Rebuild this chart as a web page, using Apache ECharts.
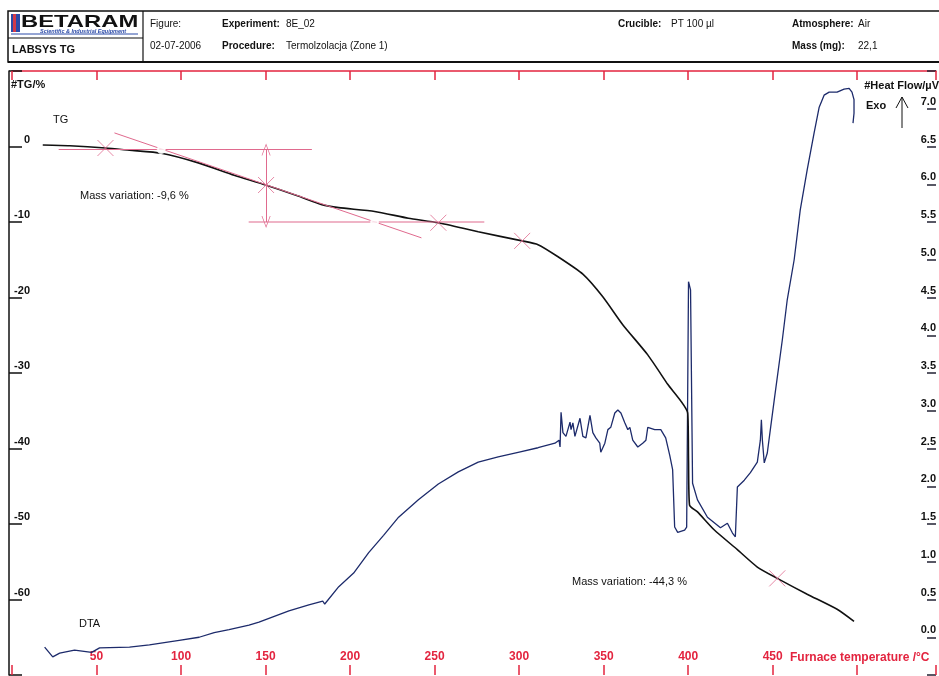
<!DOCTYPE html>
<html>
<head>
<meta charset="utf-8">
<script src="https://cdn.jsdelivr.net/npm/echarts@6/dist/echarts.min.js"></script>
<style>
html,body{margin:0;padding:0;background:#fff;}
#chart{width:939px;height:676px;}
</style>
</head>
<body>
<div id="chart"></div>
<script>
// TG curve, furnace temperature (°C) and mass change (%)
var tgT = [18.2, 34.1, 55.3, 69.5, 88.3, 110.7, 131.4, 150.2, 169.7, 183.3, 193.3, 214.5, 234.5, 252.2, 275.8, 301.8, 311.2, 323.0, 337.7, 349.5, 361.3, 376.1, 387.9, 399.7, 400.2, 400.8, 405.5, 415.5, 429.1, 440.9, 452.7, 470.4, 488.1, 498.1];
var tgV = [0.2, 0.1, -0.2, -0.5, -0.9, -2.2, -3.8, -5.1, -6.6, -7.7, -8.1, -8.6, -9.5, -10.1, -11.3, -12.5, -13.0, -14.6, -16.9, -19.9, -23.6, -27.6, -31.5, -35.3, -41.5, -47.5, -48.4, -50.8, -53.4, -55.7, -57.2, -59.3, -61.3, -62.9];

// DTA curve, furnace temperature (°C) and heat flow (µV)
var dtaT = [19.3, 24.1, 28.2, 37.0, 47.1, 51.8, 69.5, 81.3, 93.0, 98.9, 110.7, 119.6, 128.4, 140.2, 146.1, 152.0, 163.8, 175.6, 183.8, 185.0, 193.3, 202.1, 211.0, 219.8, 228.7, 240.4, 252.2, 264.0, 275.8, 287.6, 299.4, 311.2, 321.2,
  323.6, 324.2, 324.8, 325.9, 327.7, 330.1, 330.7, 331.8, 333.0, 336.0, 337.7, 339.5, 341.9, 343.6, 345.4, 347.7, 348.3, 350.7, 352.5, 354.2, 356.6, 358.4, 360.2, 362.5, 364.3, 365.5, 367.2, 370.2, 373.1, 375.0, 376.1, 380.2, 383.8, 386.7, 389.1, 390.8,
  392.0, 393.8, 397.9, 399.1, 400.2, 401.4, 402.6, 405.5, 411.4, 419.1, 423.2, 426.2, 427.9, 429.1, 433.2, 436.8, 440.9, 442.7, 443.3, 443.9, 445.0, 446.8, 448.6, 450.9,
  455.7, 458.6, 462.7, 466.3, 470.4, 474.5, 477.5, 480.4, 483.4, 488.1, 492.2, 495.2, 496.9, 498.1, 498.1, 497.5];
var dtaV = [-0.13, -0.26, -0.21, -0.17, -0.20, -0.14, -0.13, -0.10, -0.06, -0.04, 0.00, 0.06, 0.10, 0.16, 0.20, 0.25, 0.35, 0.43, 0.48, 0.44, 0.67, 0.85, 1.12, 1.35, 1.59, 1.82, 2.03, 2.19, 2.32, 2.39, 2.45, 2.51, 2.57,
  2.61, 2.52, 2.98, 2.71, 2.66, 2.85, 2.75, 2.84, 2.66, 2.90, 2.66, 2.64, 2.94, 2.71, 2.64, 2.57, 2.45, 2.57, 2.75, 2.78, 2.97, 3.01, 2.97, 2.84, 2.75, 2.78, 2.61, 2.52, 2.57, 2.61, 2.78, 2.75, 2.75, 2.64, 2.41, 2.22,
  1.46, 1.39, 1.42, 1.46, 4.71, 4.60, 2.04, 1.82, 1.59, 1.45, 1.51, 1.38, 1.33, 1.99, 2.08, 2.18, 2.32, 2.61, 2.88, 2.61, 2.31, 2.44, 2.75, 3.14,
  3.94, 4.47, 5.00, 5.66, 6.19, 6.68, 7.02, 7.18, 7.22, 7.22, 7.26, 7.27, 7.22, 7.12, 6.94, 6.81];

// mass variation construction (-9,6 %)
var upperT = [27.6, 177.4], upperV = [-0.4, -0.4];
var lowerT = [140, 279.4], lowerV = [-10.0, -10.0];
var tangentT = [60.6, 242.2], tangentV = [1.8, -12.1];
var stepT = 150.3, stepFrom = -0.4, stepTo = -10.0;
var crossT = [55.3, 150.3, 252.2, 301.8, 452.7];
var crossV = [-0.2, -5.1, -10.1, -12.5, -57.2];
var circleT = [88.3, 214.5];
var circleV = [-0.4, -10.0];

var xTicks = [50, 100, 150, 200, 250, 300, 350, 400, 450];

function zip(a, b) { return a.map(function (v, i) { return [v, b[i]]; }); }

var pink = '#e06a8e';
var red = '#e3243f';
var chev = 'path://M0,10L5,0L10,10L9.2,10L5,1.6L0.8,10Z';

var myChart = echarts.init(document.getElementById('chart'));
function t(x, y, s, bold, extra) {
    var st = { text: s, x: x, y: y, fontFamily: 'Liberation Sans', fontSize: 10, fill: '#111', fontWeight: bold ? 'bold' : 'normal', verticalAlign: 'middle' };
    if (extra) { for (var k in extra) st[k] = extra[k]; }
    return { type: 'text', style: st, z: 100 };
}

option = {
    animation: false,
    backgroundColor: '#fff',
    grid: { left: 12, right: 0, top: 71, bottom: 1 },
    xAxis: [{
        type: 'value', min: 0, max: 546.6, interval: 50, position: 'bottom',
        axisLine: { show: false, onZero: false },
        axisTick: { show: true, inside: true, length: 10, lineStyle: { color: red, width: 1.5 } },
        axisLabel: {
            inside: true, margin: 12, color: red, fontWeight: 'bold', fontSize: 12, fontFamily: 'Liberation Sans',
            formatter: function (v) { return xTicks.indexOf(v) >= 0 ? String(v) : ''; }
        },
        splitLine: { show: false }
    }, {
        type: 'value', min: 0, max: 546.6, interval: 50, position: 'top',
        axisLine: { show: true, onZero: false, lineStyle: { color: red, width: 1.5 } },
        axisTick: { inside: true, length: 9, lineStyle: { color: red, width: 1.5 } },
        axisLabel: { show: false },
        splitLine: { show: false }
    }],
    yAxis: [{
        type: 'value', min: -70, max: 10, interval: 10, position: 'left', offset: 3,
        axisLine: { show: true, onZero: false, lineStyle: { color: '#111', width: 1.5 } },
        axisTick: { inside: true, length: 13, lineStyle: { color: '#111', width: 1.5 } },
        axisLabel: {
            inside: true, margin: 21, align: 'right', verticalAlign: 'bottom', lineHeight: 14,
            color: '#111', fontWeight: 'bold', fontSize: 11, fontFamily: 'Liberation Sans',
            formatter: function (v) { return (v <= 0 && v >= -60) ? String(v) : ''; }
        },
        splitLine: { show: false }
    }, {
        type: 'value', min: -0.5, max: 7.5, interval: 0.5, position: 'right',
        axisLine: { show: false, onZero: false },
        axisTick: { show: true, inside: true, length: 9, lineStyle: { color: '#223', width: 1.5 } },
        axisLabel: {
            inside: true, margin: 0, verticalAlign: 'bottom', lineHeight: 14,
            color: '#111', fontWeight: 'bold', fontSize: 11, fontFamily: 'Liberation Sans',
            formatter: function (v) { return (v >= 0 && v <= 7) ? v.toFixed(1) : ''; }
        },
        splitLine: { show: false }
    }],
    series: [{
        name: 'DTA', type: 'line', yAxisIndex: 1, data: zip(dtaT, dtaV),
        showSymbol: false, lineStyle: { color: '#1d2b6b', width: 1.3 }, z: 3
    }, {
        name: 'TG', type: 'line', yAxisIndex: 0, data: zip(tgT, tgV),
        showSymbol: false, smooth: 0.2, lineStyle: { color: '#111', width: 1.6 }, z: 4
    }, {
        type: 'line', yAxisIndex: 0, data: zip(upperT, upperV),
        showSymbol: false, lineStyle: { color: pink, width: 1.2 }, z: 5
    }, {
        type: 'line', yAxisIndex: 0, data: zip(lowerT, lowerV),
        showSymbol: false, lineStyle: { color: pink, width: 1.2 }, z: 5
    }, {
        type: 'line', yAxisIndex: 0, data: zip(tangentT, tangentV),
        showSymbol: false, lineStyle: { color: pink, width: 1 }, z: 5,
        markLine: {
            silent: true, symbol: [chev, chev], symbolSize: [9, 12], label: { show: false },
            lineStyle: { color: pink, width: 1, type: 'solid' },
            data: [[{ coord: [stepT, stepFrom] }, { coord: [stepT, stepTo] }]]
        }
    }, {
        type: 'scatter', yAxisIndex: 0, data: zip(crossT, crossV),
        symbol: 'path://M0,0L10,10M10,0L0,10', symbolSize: 16,
        itemStyle: { color: 'rgba(0,0,0,0)', borderColor: pink, borderWidth: 1 }, z: 6
    }, {
        type: 'scatter', yAxisIndex: 0, data: zip(circleT, circleV),
        symbol: 'emptyCircle', symbolSize: 7,
        itemStyle: { color: '#fff', borderColor: pink, borderWidth: 1 }, z: 6
    }],
    graphic: [
        { type: 'rect', shape: { x: 8, y: 11, width: 940, height: 51 }, style: { fill: 'none', stroke: '#111', lineWidth: 1.5 }, z: 100 },
        { type: 'line', shape: { x1: 143, y1: 11, x2: 143, y2: 62 }, style: { stroke: '#111', lineWidth: 1.2 }, z: 100 },
        { type: 'line', shape: { x1: 8, y1: 38, x2: 143, y2: 38 }, style: { stroke: '#111', lineWidth: 1.2 }, z: 100 },
        { type: 'rect', shape: { x: 11, y: 14, width: 9, height: 18 }, style: { fill: '#2b4aa8' }, z: 100 },
        { type: 'rect', shape: { x: 13, y: 14, width: 3, height: 18 }, style: { fill: '#d23a4a' }, z: 101 },
        { type: 'line', shape: { x1: 11, y1: 34, x2: 138, y2: 34 }, style: { stroke: '#2b4aa8', lineWidth: 1 }, z: 100 },
        { type: 'text', x: 21, y: 22, scaleX: 1.4, style: { text: 'BETARAM', x: 0, y: 0, fontFamily: 'Liberation Sans', fontSize: 17, fontWeight: 'bold', fill: '#111', verticalAlign: 'middle' }, z: 100 },
        t(40, 31.5, 'Scientific & Industrial Equipment', true, { fontSize: 5.5, fill: '#2b4aa8', fontStyle: 'italic' }),
        t(12, 50, 'LABSYS TG', true, { fontSize: 11 }),
        t(150, 24, 'Figure:', false),
        t(150, 46, '02-07-2006', false),
        t(222, 24, 'Experiment:', true),
        t(286, 24, '8E_02', false),
        t(222, 46, 'Procedure:', true),
        t(286, 46, 'Termolzolacja (Zone 1)', false),
        t(618, 24, 'Crucible:', true),
        t(671, 24, 'PT 100 µl', false),
        t(792, 24, 'Atmosphere:', true),
        t(858, 24, 'Air', false),
        t(792, 46, 'Mass (mg):', true),
        t(858, 46, '22,1', false),
        { type: 'line', shape: { x1: 8, y1: 62, x2: 939, y2: 62 }, style: { stroke: '#111', lineWidth: 2 }, z: 100 },
        t(11, 85, '#TG/%', true, { fontSize: 11 }),
        t(939, 86, '#Heat Flow/µV', true, { fontSize: 11, align: 'right' }),
        t(866, 106, 'Exo', true, { fontSize: 11 }),
        { type: 'line', shape: { x1: 902, y1: 128, x2: 902, y2: 97 }, style: { stroke: '#111', lineWidth: 1 }, z: 100 },
        { type: 'polyline', shape: { points: [[896, 108], [902, 97], [908, 108]] }, style: { stroke: '#111', lineWidth: 1, fill: 'none' }, z: 100 },
        t(53, 120, 'TG', false, { fontSize: 11 }),
        t(79, 624, 'DTA', false, { fontSize: 11 }),
        t(80, 196, 'Mass variation: -9,6 %', false, { fontSize: 11 }),
        t(572, 582, 'Mass variation: -44,3 %', false, { fontSize: 11 }),
        t(790, 658, 'Furnace temperature /°C', true, { fontSize: 12, fill: red })
    ]
};
myChart.setOption(option);
</script>
</body>
</html>
